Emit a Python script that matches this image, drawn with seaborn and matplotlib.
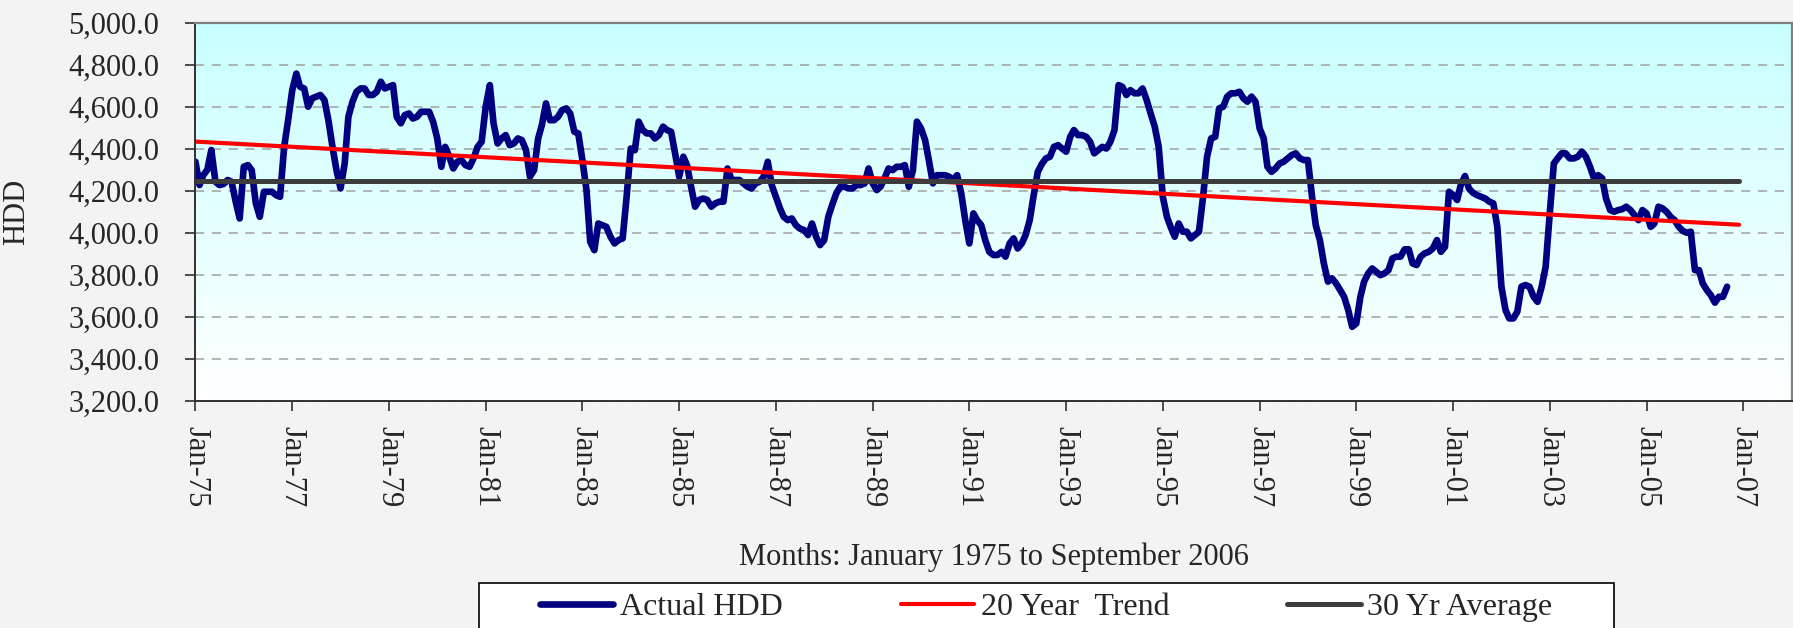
import numpy as np
import pandas as pd
import matplotlib
matplotlib.use("Agg")
import matplotlib.pyplot as plt
from matplotlib.colors import LinearSegmentedColormap
from matplotlib.patches import Rectangle
from matplotlib.ticker import FuncFormatter, MultipleLocator
import seaborn as sns

# Monthly heating degree days (Jan 1975 - Sep 2006)
hdd_1975_79 = [
    4338, 4227, 4274, 4300, 4394, 4243, 4227, 4232, 4251, 4243, 4148, 4068,
    4314, 4322, 4298, 4140, 4076, 4195, 4195, 4195, 4179, 4171, 4409, 4536,
    4679, 4758, 4695, 4687, 4600, 4640, 4648, 4656, 4632, 4536, 4409, 4298,
    4211, 4330, 4552, 4624, 4671, 4687, 4687, 4656, 4656, 4671, 4719, 4687,
    4695, 4703, 4552, 4521, 4560, 4568, 4544, 4552, 4576, 4576, 4576, 4528,
]
hdd_1980_89 = [
    4449, 4314, 4409, 4362, 4306, 4338, 4346, 4322, 4314, 4354, 4409, 4433,
    4600, 4703, 4521, 4425, 4449, 4465, 4417, 4425, 4449, 4441, 4394, 4267,
    4298, 4449, 4513, 4616, 4536, 4536, 4552, 4584, 4592, 4568, 4481, 4473,
    4346, 4203, 3957, 3917, 4044, 4036, 4028, 3981, 3949, 3965, 3973, 4171,
    4401, 4393, 4529, 4489, 4473, 4473, 4449, 4465, 4505, 4489, 4481, 4378,
    4267, 4362, 4322, 4219, 4124, 4156, 4163, 4156, 4124, 4140, 4148, 4148,
    4306, 4251, 4251, 4251, 4235, 4219, 4211, 4235, 4243, 4267, 4338, 4227,
    4171, 4116, 4076, 4060, 4068, 4036, 4020, 4013, 3989, 4044, 3981, 3941,
    3965, 4076, 4132, 4187, 4219, 4219, 4211, 4211, 4227, 4227, 4235, 4306,
    4235, 4203, 4219, 4259, 4306, 4298, 4314, 4314, 4322, 4219, 4298, 4529,
]
hdd_1990_99 = [
    4497, 4441, 4346, 4235, 4274, 4274, 4274, 4267, 4251, 4274, 4187, 4060,
    3949, 4092, 4060, 4036, 3965, 3909, 3894, 3894, 3909, 3886, 3949, 3973,
    3925, 3949, 3989, 4060, 4179, 4290, 4327, 4354, 4362, 4409, 4417, 4401,
    4386, 4457, 4489, 4465, 4465, 4457, 4433, 4378, 4394, 4409, 4401, 4433,
    4489, 4703, 4695, 4656, 4679, 4664, 4664, 4687, 4632, 4568, 4505, 4409,
    4171, 4076, 4028, 3981, 4044, 4005, 4005, 3973, 3989, 4005, 4171, 4362,
    4449, 4457, 4592, 4600, 4648, 4664, 4664, 4671, 4640, 4624, 4648, 4624,
    4497, 4449, 4314, 4290, 4306, 4330, 4338, 4354, 4370, 4378, 4354, 4346,
    4346, 4171, 4036, 3965, 3854, 3767, 3783, 3759, 3727, 3695, 3632, 3552,
    3568, 3695, 3767, 3806, 3830, 3814, 3798, 3806, 3822, 3878, 3886, 3886,
]
hdd_2000_06 = [
    3921, 3921, 3854, 3846, 3886, 3902, 3909, 3925, 3965, 3909, 3933, 4195,
    4180, 4156, 4230, 4270, 4210, 4190, 4179, 4171, 4163, 4148, 4140, 4028,
    3743, 3632, 3592, 3592, 3624, 3743, 3751, 3743, 3695, 3671, 3743, 3838,
    4092, 4330, 4354, 4378, 4378, 4354, 4354, 4362, 4386, 4362, 4314, 4259,
    4274, 4259, 4163, 4108, 4100, 4108, 4112, 4124, 4108, 4084, 4060, 4108,
    4092, 4028, 4044, 4124, 4116, 4100, 4076, 4060, 4028, 4009, 4000, 4005,
    3822, 3822, 3759, 3727, 3703, 3667, 3695, 3695, 3743,
]

# trend and average lines (end points)
line_dates = ["1975-01-01", "2006-12-01"]
trend_values = [4434, 4038]
average_values = [4245, 4245]

hdd = hdd_1975_79 + hdd_1980_89 + hdd_1990_99 + hdd_2000_06
df = pd.DataFrame({
    "date": pd.date_range("1975-01-01", periods=len(hdd), freq="MS"),
    "hdd": hdd,
})
df_trend = pd.DataFrame({"date": pd.to_datetime(line_dates), "value": trend_values})
df_avg = pd.DataFrame({"date": pd.to_datetime(line_dates), "value": average_values})

sns.set_style("white")
plt.rcParams['font.family'] = ['Liberation Serif', 'DejaVu Serif']

fig = plt.figure(figsize=(17.93, 6.28), dpi=100, facecolor='#f3f3f3')
pos = [0.1090, 0.3619, 0.8902, 0.6019]

# gradient plot area (light turquoise to white)
bg = fig.add_axes(pos, zorder=0)
grad = LinearSegmentedColormap.from_list("grad", ["#c8ffff", "#ffffff"])
bg.imshow(np.linspace(0, 1, 256).reshape(-1, 1), aspect='auto', cmap=grad, extent=[0, 1, 0, 1])
bg.axis('off')

ax = fig.add_axes(pos, zorder=1)
ax.set_facecolor('none')

sns.lineplot(data=df, x='date', y='hdd', ax=ax, color='#000080', linewidth=4.8,
             label='Actual HDD', solid_joinstyle='round', solid_capstyle='round')
sns.lineplot(data=df_trend, x='date', y='value', ax=ax, color='#ff0000', linewidth=3.0,
             label='20 Year  Trend', solid_capstyle='round')
sns.lineplot(data=df_avg, x='date', y='value', ax=ax, color='#3c3c3c', linewidth=3.6,
             label='30 Yr Average', solid_capstyle='round')

ax.set_xlim(pd.Timestamp("1975-01-01"), pd.Timestamp("2008-01-01"))
ax.set_ylim(3200, 5000)
ax.yaxis.set_major_locator(MultipleLocator(200))
ax.yaxis.set_major_formatter(FuncFormatter(lambda v, p: f"{v:,.1f}"))

tick_dates = pd.date_range("1975-01-01", "2007-01-01", freq="24MS")
ax.set_xticks(tick_dates)
ax.set_xticklabels([f"Jan-{d:%y}" for d in tick_dates], rotation=270)

ax.tick_params(axis='both', which='major', labelsize=22, direction='out',
               length=7, width=1.2, color='#303030', left=True, bottom=True)
ax.tick_params(axis='y', pad=19)
ax.tick_params(axis='x', pad=11)

ax.yaxis.grid(True, color='#a0a0a0', linestyle=(0, (6, 5)), linewidth=1.1)
ax.xaxis.grid(False)
ax.set_axisbelow(True)

for side in ['left', 'bottom']:
    ax.spines[side].set_color('#303030')
    ax.spines[side].set_linewidth(1.4)
for side in ['top', 'right']:
    ax.spines[side].set_color('#808080')
    ax.spines[side].set_linewidth(1.6)

ax.set_ylabel('HDD', fontsize=22)
ax.yaxis.set_label_coords(-0.103, 0.5)
ax.set_xlabel('Months: January 1975 to September 2006', fontsize=22)
ax.xaxis.set_label_coords(0.5, -0.375)

# legend box (runs off the bottom of the image like the original)
handles, labels = ax.get_legend_handles_labels()
ax.get_legend().remove()
box = Rectangle((479 / 1793, -0.05), 1135 / 1793, 0.05 + (1 - 583 / 628),
                transform=fig.transFigure, facecolor='white', edgecolor='black',
                linewidth=1.2, clip_on=False, zorder=2)
fig.add_artist(box)
leg = fig.legend(handles, labels, loc='center left', bbox_to_anchor=(540 / 1793, 1 - 607 / 628),
                 ncol=3, frameon=False, fontsize=23, handlelength=2.3, handletextpad=0.2,
                 columnspacing=3.7, borderpad=0, borderaxespad=0)
leg.set_zorder(3)

fig.savefig('out.png', dpi=100, facecolor=fig.get_facecolor())
